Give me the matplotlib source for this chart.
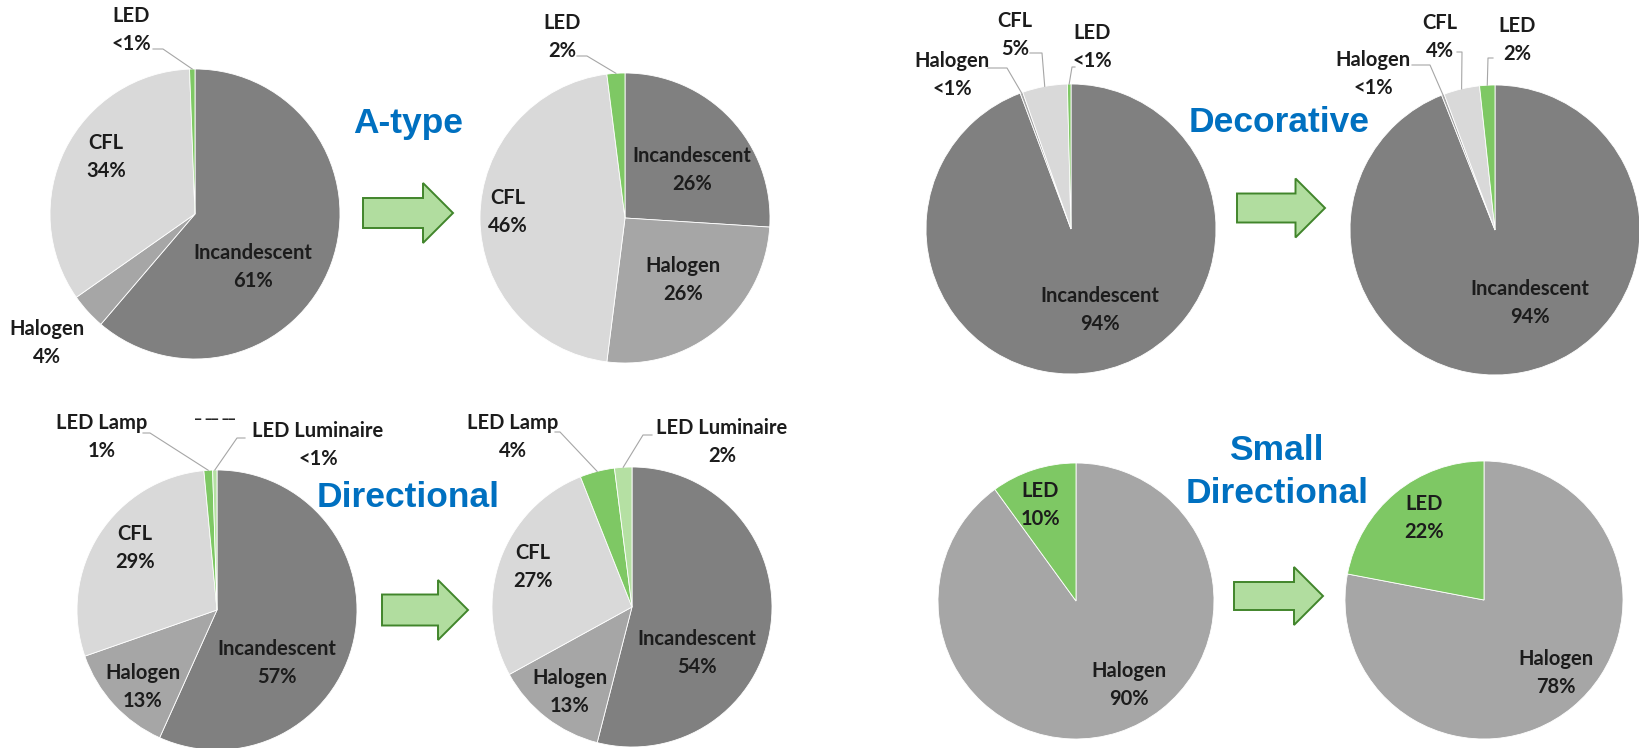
import matplotlib.pyplot as plt
from matplotlib.patches import FancyArrow
import numpy as np

# ---- data ----
atype_names = ['Incandescent', 'Halogen', 'CFL', 'LED']
atype_before = [61, 4, 34, 0.6]
atype_before_pct = ['61%', '4%', '34%', '<1%']
atype_after = [26, 26, 46, 2]
atype_after_pct = ['26%', '26%', '46%', '2%']

dir_names = ['Incandescent', 'Halogen', 'CFL', 'LED Lamp', 'LED Luminaire']
dir_before = [57, 13, 29, 1, 0.5]
dir_before_pct = ['57%', '13%', '29%', '1%', '<1%']
dir_after = [54, 13, 27, 4, 2]
dir_after_pct = ['54%', '13%', '27%', '4%', '2%']

deco_names = ['Incandescent', 'Halogen', 'CFL', 'LED']
deco_before = [94.3, 0.3, 5, 0.4]
deco_before_pct = ['94%', '<1%', '5%', '<1%']
deco_after = [94, 0.3, 4, 1.7]
deco_after_pct = ['94%', '<1%', '4%', '2%']

small_names = ['Halogen', 'LED']
small_before = [90, 10]
small_before_pct = ['90%', '10%']
small_after = [78, 22]
small_after_pct = ['78%', '22%']

colors = {'Incandescent': '#808080', 'Halogen': '#a6a6a6', 'CFL': '#d9d9d9',
          'LED': '#7ec864', 'LED Lamp': '#7ec864', 'LED Luminaire': '#b5e0a3'}

# ---- layout (pixel coords, y from top) ----
W, H = 1640, 748
pies = [
    # names, values, pct, center, radius, label positions, leaders {index: (start, elbow)}
    (atype_names, atype_before, atype_before_pct, (195, 214), 145,
     [(253, 267), (47, 343), (106, 157), (131, 30)],
     {3: ((153, 49), (163, 49))}),
    (atype_names, atype_after, atype_after_pct, (625, 218), 145,
     [(692, 170), (683, 280), (508, 212), (562, 37)],
     {3: ((577, 56), (587, 56))}),
    (dir_names, dir_before, dir_before_pct, (217, 610), 140,
     [(277, 663), (143, 687), (135, 548), (102, 437), (318, 445)],
     {3: ((143, 433), (150, 433)), 4: ((245, 438), (237, 438))}),
    (dir_names, dir_after, dir_after_pct, (632, 607), 140,
     [(697, 653), (570, 692), (533, 567), (513, 437), (722, 442)],
     {3: ((555, 432), (560, 432)), 4: ((652, 435), (643, 435))}),
    (deco_names, deco_before, deco_before_pct, (1071, 229), 145,
     [(1100, 310), (952, 75), (1015, 35), (1092, 47)],
     {1: ((988, 68), (1007, 68)), 2: ((1030, 53), (1042, 53)), 3: ((1075, 67), (1072, 67))}),
    (deco_names, deco_after, deco_after_pct, (1495, 230), 145,
     [(1530, 303), (1373, 74), (1440, 37), (1517, 40)],
     {1: ((1412, 65), (1430, 65)), 2: ((1457, 52), (1462, 52)), 3: ((1493, 58), (1488, 58))}),
    (small_names, small_before, small_before_pct, (1076, 601), 138,
     [(1129, 685), (1040, 505)], {}),
    (small_names, small_after, small_after_pct, (1484, 600), 139,
     [(1556, 673), (1424, 518)], {}),
]

titles = [('A-type', 408, 133), ('Decorative', 1279, 132), ('Directional', 408, 507),
          ('Small', 1276, 460), ('Directional', 1277, 503)]

# arrows: tail x, tip x, y, body width, head width
arrows = [(363, 453, 213, 30, 60), (382, 468, 610, 31, 60),
          (1237, 1325, 208, 29, 59), (1234, 1323, 596, 28, 58)]

label_font = dict(family='Lato', fontweight='bold', fontsize=14.5, color='#1c1c1c')
title_font = dict(family='Liberation Sans', fontweight='bold', fontsize=25.5, color='#0070c0')


def Y(y):
    return H - y


fig = plt.figure(figsize=(W / 100, H / 100), dpi=100)
ax = fig.add_axes([0, 0, 1, 1])

for names, vals, pcts, (cx, cy), r, lpos, leaders in pies:
    wedges, _ = ax.pie(vals, colors=[colors[n] for n in names], startangle=90,
                       counterclock=False, center=(cx, Y(cy)), radius=r,
                       wedgeprops=dict(edgecolor='white', linewidth=0.6))
    for i, (name, pct) in enumerate(zip(names, pcts)):
        lx, ly = lpos[i]
        ax.text(lx, Y(ly), name + '\n' + pct, ha='center', va='center',
                linespacing=1.55, **label_font)
        if i in leaders:
            w = wedges[i]
            ang = np.deg2rad((w.theta1 + w.theta2) / 2)
            ex, ey = cx + r * np.cos(ang), Y(cy) + r * np.sin(ang)
            (sx, sy), (bx, by) = leaders[i]
            ax.plot([sx, bx, ex], [Y(sy), Y(by), ey], color='#a6a6a6', lw=0.8)

for t, x, y in titles:
    ax.text(x, Y(y), t, ha='center', va='baseline', **title_font)

for x0, x1, y, bw, hw in arrows:
    ax.add_patch(FancyArrow(x0, Y(y), x1 - x0, 0, width=bw, head_width=hw,
                            head_length=hw / 2, length_includes_head=True,
                            facecolor='#b1dd9f', edgecolor='#41852b', linewidth=1.4))

# stray clipped text marks above the directional pie
ax.text(215, Y(424), '\u203e \u203e\u203e \u203e\u203e', ha='center', va='center',
        fontsize=9, fontweight='bold', color='#262626')

ax.set_xlim(0, W)
ax.set_ylim(0, H)
ax.set_aspect('equal')
ax.axis('off')
fig.savefig('out.png', dpi=100, facecolor='white')
